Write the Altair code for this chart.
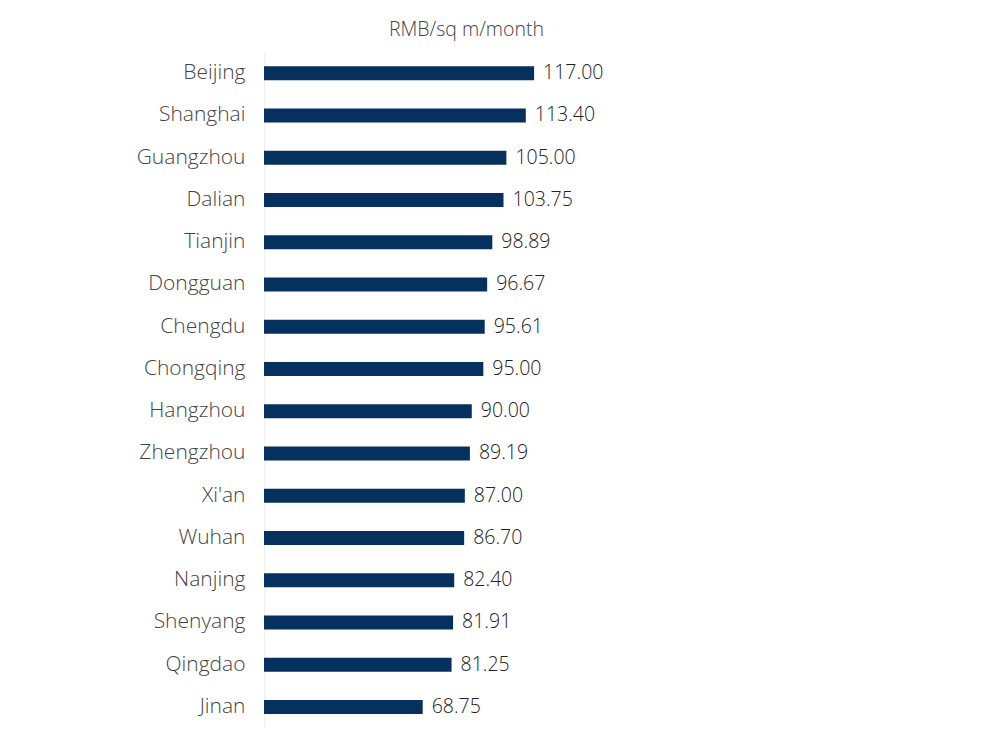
import altair as alt
import pandas as pd

cities = ["Beijing", "Shanghai", "Guangzhou", "Dalian", "Tianjin", "Dongguan", "Chengdu",
          "Chongqing", "Hangzhou", "Zhengzhou", "Xi'an", "Wuhan", "Nanjing", "Shenyang",
          "Qingdao", "Jinan"]
rents = [117.00, 113.40, 105.00, 103.75, 98.89, 96.67, 95.61, 95.00, 90.00, 89.19,
         87.00, 86.70, 82.40, 81.91, 81.25, 68.75]

df = pd.DataFrame({"city": cities, "rent": rents})

FONT = "Open Sans"

x = alt.X("rent:Q",
          scale=alt.Scale(domain=[0, 175], nice=False, zero=True),
          axis=alt.Axis(orient="top", title="RMB/sq m/month", labels=False, ticks=False,
                        domain=False, grid=False, titleFont=FONT, titleFontSize=19.5,
                        titleFontWeight=300, titleColor="#444444", titlePadding=13))
y = alt.Y("city:N", sort=cities,
          scale=alt.Scale(paddingInner=0.66, paddingOuter=0.33),
          axis=alt.Axis(title=None, ticks=False, domainColor="#eeeeee", domainWidth=1,
                        labelFont=FONT, labelFontSize=21, labelFontWeight=300,
                        labelColor="#444444", labelPadding=19))

bars = alt.Chart(df).mark_bar(color="#06315e", size=14).encode(x=x, y=y)
labels = alt.Chart(df).mark_text(align="left", baseline="middle", dx=9, font=FONT,
                                 fontSize=19.5, fontWeight=300, color="#222222").encode(
    x="rent:Q", y=alt.Y("city:N", sort=cities),
    text=alt.Text("rent:Q", format=".2f"))

chart = (bars + labels).properties(
    width=404, height=676,
    autosize=alt.AutoSizeParams(type="none"),
    padding={"left": 256, "top": 44, "right": 10, "bottom": 10},
    background="white",
).configure_view(strokeWidth=0, stroke=None)

chart.save("out.html", embed_options={"renderer": "svg", "actions": False})
